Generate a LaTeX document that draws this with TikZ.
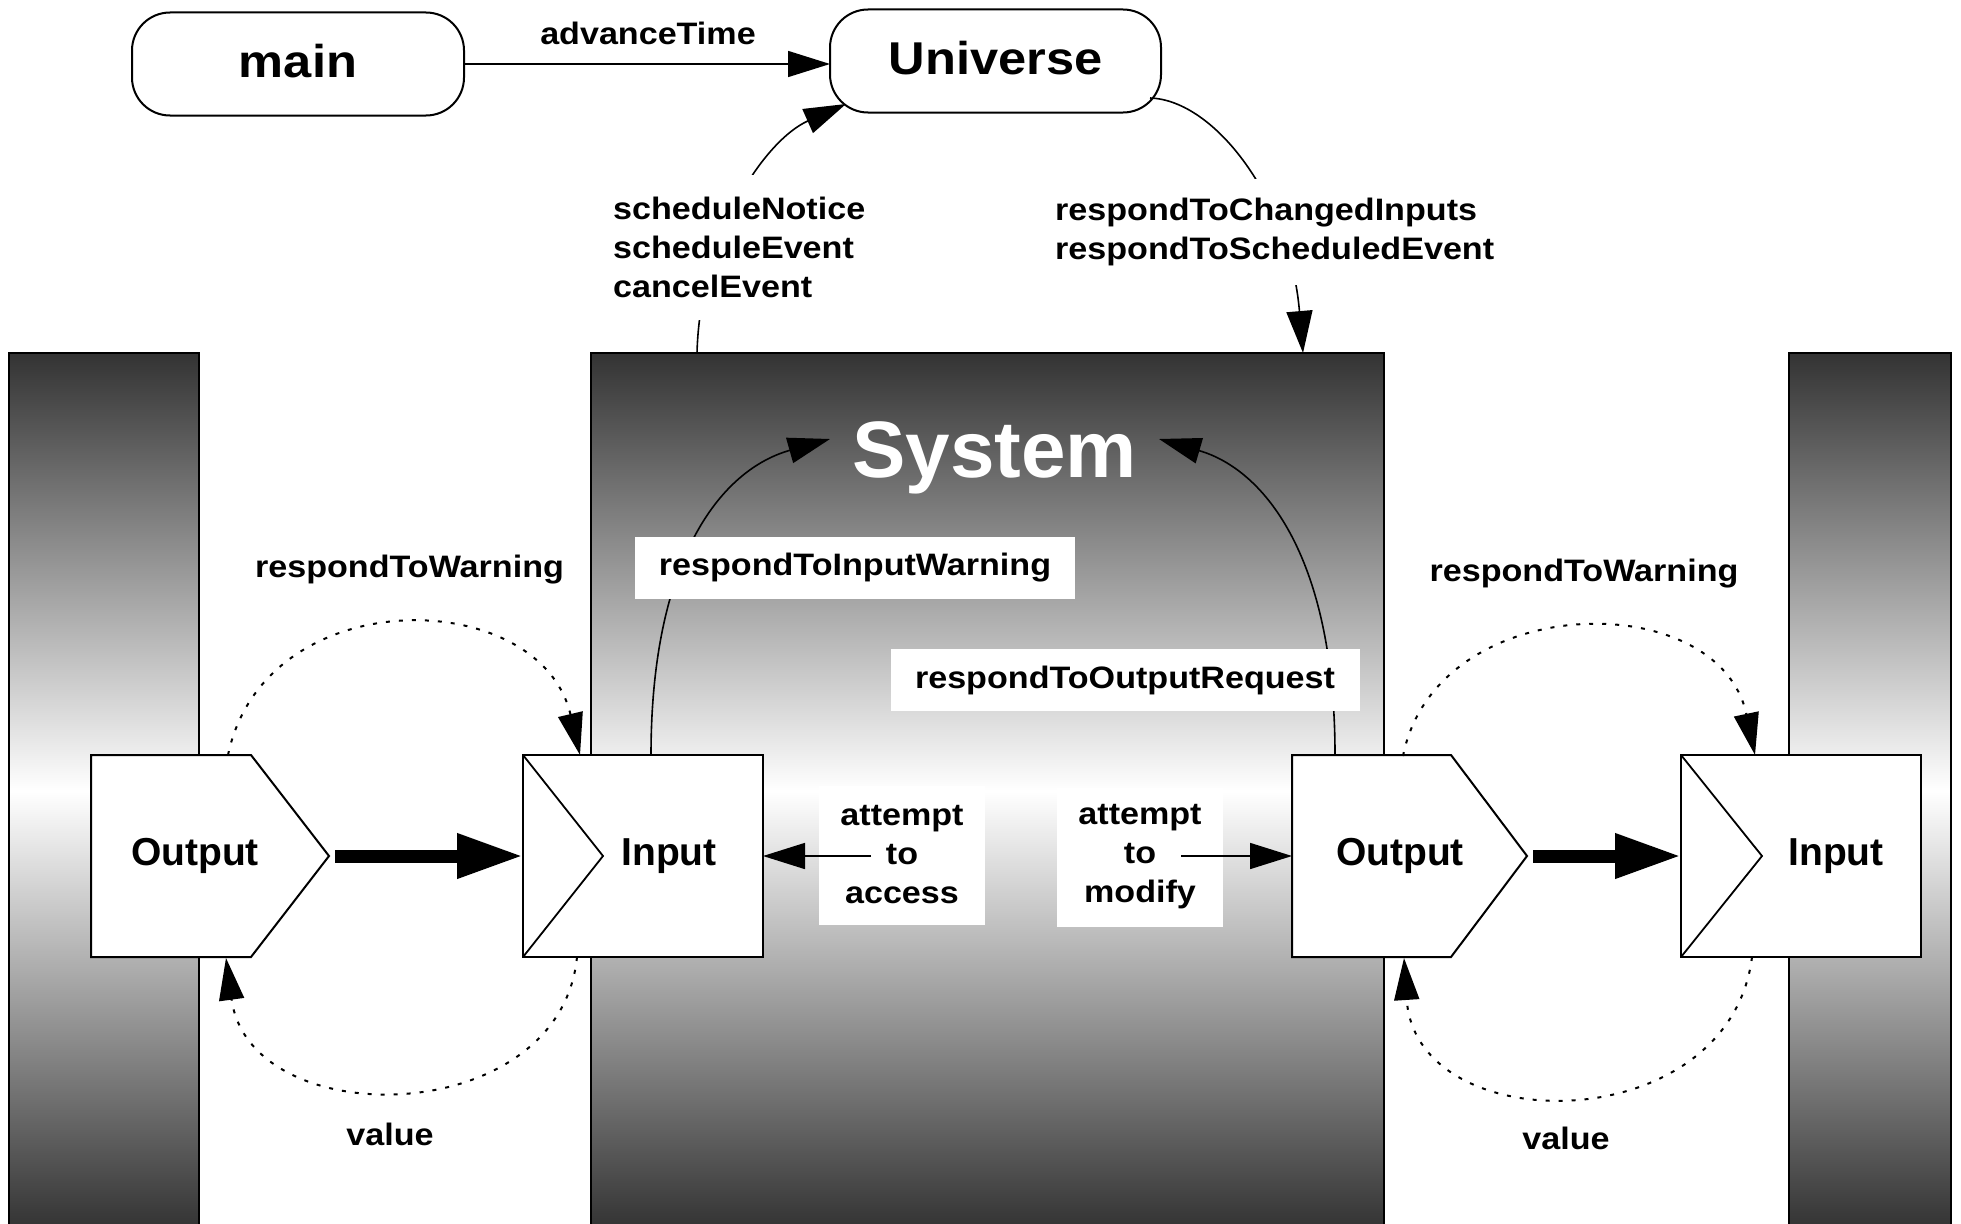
\documentclass[tikz,border=0pt]{standalone}
\usepackage{fontspec}
\setmainfont{Liberation Sans}
\newfontfamily\wfont{Liberation Sans}[FakeStretch=1.1]
\usetikzlibrary{arrows.meta}
\tikzset{
  lbl/.style={font=\wfont\bfseries\fontsize{31}{39}\selectfont, inner sep=0pt},
  boxtxt/.style={font=\bfseries\fontsize{39}{47}\selectfont, inner sep=0pt},
  toptxt/.style={font=\wfont\bfseries\fontsize{46}{55}\selectfont, text depth=7pt},
  panel/.style={draw, line width=2pt, top color=black!80, bottom color=black!80, middle color=white, inner sep=0pt, outer sep=0pt, minimum height=876pt},
  topbox/.style={draw, line width=2pt, rounded corners=38pt, minimum height=103pt, inner sep=0pt, outer sep=0pt, fill=white},
  boxnode/.style={draw, line width=2pt, fill=white, inner sep=0pt, outer sep=0pt, minimum height=202pt},
  portshape/.style={draw, line width=2pt, fill=white},
  chev/.style={line width=1.8pt},
  conn/.style={line width=1.6pt, -{Triangle[length=42pt,width=26pt]}},
  thickarr/.style={line width=13pt, -{Triangle[length=66pt,width=42pt]}},
  dotconn/.style={line width=2pt, dash pattern=on 4pt off 9pt, -{Triangle[length=42pt,width=25pt]}},
  whitelbl/.style={lbl, fill=white}
}
\begin{document}
\begin{tikzpicture}[x=1pt,y=-1pt]
\useasboundingbox (0,0) rectangle (1961,1223);
\fill[white] (0,0) rectangle (1961,1223);

% shaded panels
\node[panel, minimum width=190pt] (lpanel) at (104,791) {};
\node[panel, minimum width=793pt] (sys) at (987.5,791) {};
\node[panel, minimum width=162pt] (rpanel) at (1870,791) {};

% top boxes
\node[topbox, minimum width=332pt, toptxt] (main) at (298,64) {main};
\node[topbox, minimum width=331pt, toptxt] (universe) at (995.5,61) {Universe};
\draw[conn] (main.east) -- (main.east -| universe.west);
\node[lbl, anchor=base] (advt) at (648,45) {advanceTime};

% System -> Universe
\coordinate (sysA) at (697,353);
\coordinate (uniSW) at (846,104);
\draw[conn] (sysA) .. controls (700,235) and (765,140) .. (uniSW);
\node[whitelbl, align=left, anchor=west, minimum height=145pt] (sched) at (613,247) {scheduleNotice\\scheduleEvent\\cancelEvent};

% Universe -> System
\coordinate (uniSE) at (1150,98);
\coordinate (sysB) at (1303,353);
\draw[conn] (uniSE) .. controls (1215,100) and (1290,200) .. (sysB);
\node[whitelbl, align=left, anchor=west, minimum height=106pt] (resp) at (1055,232) {respondToChangedInputs\\respondToScheduledEvent};

% System title
\node[font=\bfseries\fontsize{80}{96}\selectfont, text=white, anchor=base, inner sep=0pt] (systxt) at (994.5,477) {System};

% arrows into System
\coordinate (in1top) at (651,755);
\coordinate (sysL) at (830,439);
\draw[conn] (in1top) .. controls (651,560) and (720,470) .. (sysL);
\coordinate (out2top) at (1335,755);
\coordinate (sysR) at (1159,439);
\draw[conn] (out2top) .. controls (1335,560) and (1266,470) .. (sysR);
\node[whitelbl, minimum width=440pt, minimum height=62pt] (riw) at (855,568) {respondToInputWarning};
\node[whitelbl, minimum width=469pt, minimum height=62pt] (ror) at (1125,680) {respondToOutputRequest};

% left Output / Input
\draw[portshape] (91,755) -- (251,755) -- (329,856) -- (251,957) -- (91,957) -- cycle;
\node[boxtxt] (out1) at (195,856) {Output};
\node[boxnode, minimum width=240pt] (in1) at (643,856) {};
\draw[chev] (in1.north west) -- ([xshift=80pt]in1.west) -- (in1.south west);
\node[boxtxt] (in1txt) at (669,856) {Input};

% right Output / Input
\draw[portshape] (1292,755) -- (1451,755) -- (1527,856) -- (1451,957) -- (1292,957) -- cycle;
\node[boxtxt] (out2) at (1400,856) {Output};
\node[boxnode, minimum width=240pt] (in2) at (1801,856) {};
\draw[chev] (in2.north west) -- ([xshift=81pt]in2.west) -- (in2.south west);
\node[boxtxt] (in2txt) at (1836,856) {Input};

% thick value-flow arrows
\coordinate (out1tip) at (329,856);
\draw[thickarr] ([xshift=6pt]out1tip) -- (in1.west);
\coordinate (out2tip) at (1527,856);
\draw[thickarr] ([xshift=6pt]out2tip) -- (in2.west);

% attempt boxes
\node[whitelbl, align=center, minimum width=166pt, minimum height=139pt] (acc) at (902,855) {attempt\\to\\access};
\coordinate (accfrom) at (871,856);
\draw[conn] (accfrom) -- (in1.east);
\node[whitelbl, align=center, minimum width=166pt, minimum height=139pt] (mod) at (1140,857) {attempt\\to\\modify};
\coordinate (modfrom) at (1181,856);
\coordinate (out2w) at (1292,856);
\draw[conn] (modfrom) -- (out2w);

% dotted warnings / values, left
\coordinate (out1top) at (228,755);
\coordinate (in1topL) at (580,755);
\draw[dotconn] (out1top) .. controls (265,580) and (540,585) .. (in1topL);
\node[lbl, anchor=base] (rtw1) at (409.5,577) {respondToWarning};
\coordinate (in1bot) at (577,957);
\coordinate (out1bot) at (226,958);
\draw[dotconn] (in1bot) .. controls (560,1130) and (250,1135) .. (out1bot);
\node[lbl, anchor=base] (val1) at (390,1145) {value};

% dotted warnings / values, right
\coordinate (out2topL) at (1403,756);
\coordinate (in2top) at (1755,755);
\draw[dotconn] (out2topL) .. controls (1436,590) and (1719,585) .. (in2top);
\node[lbl, anchor=base] (rtw2) at (1584,581) {respondToWarning};
\coordinate (in2bot) at (1752,957);
\coordinate (out2bot) at (1404,958);
\draw[dotconn] (in2bot) .. controls (1729,1140) and (1416,1142) .. (out2bot);
\node[lbl, anchor=base] (val2) at (1566,1149) {value};
\end{tikzpicture}
\end{document}
